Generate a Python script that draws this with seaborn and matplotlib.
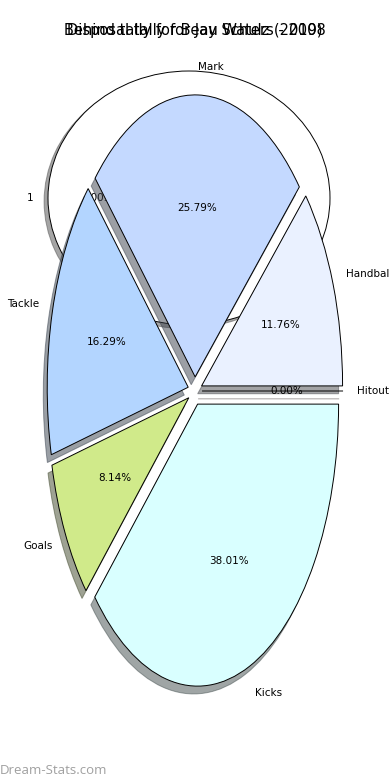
import matplotlib
matplotlib.use("Agg")
import matplotlib.pyplot as plt
import seaborn as sns

sns.set_style("white")
plt.rcParams["font.family"] = ["DejaVu Sans"]
plt.rcParams["text.color"] = "black"

# ---- data ----
title_1 = "Behind tally for Beau Waters - 2008"
labels_1 = ["1"]
values_1 = [1]
colors_1 = ["#FFFFFF"]

title_2 = "Disposal tally for Jay Schulz (2019)"
labels_2 = ["Handball", "Mark", "Tackle", "Goals", "Kicks", "Hitout"]
values_2 = [26, 57, 36, 18, 84, 0]
colors_2 = ["#EAF1FF", "#C4D9FF", "#B3D5FF", "#D0EA8A", "#D9FFFF", "#FFE0E0"]

W, H = 390, 780
fig = plt.figure(figsize=(W / 100, H / 100), dpi=100)


def px_axes(cx, cy, rx, ry):
    w, h = 2.5 * rx, 2.5 * ry
    return fig.add_axes([(cx - w / 2) / W, 1 - (cy + h / 2) / H, w / W, h / H])


def px_title(ax, text, cx_px, base_px):
    x0, y0, w, h = ax.get_position().bounds
    x = (cx_px / W - x0) / w
    y = ((1 - base_px / H) - y0) / h
    ax.set_title(text, fontsize=10.5, x=x, y=y, pad=0, color="black")


ax1 = px_axes(189, 198, 141, 127)
ax1.pie(values_1, labels=labels_1, colors=sns.color_palette(colors_1),
        autopct="%1.1f%%", shadow=True,
        wedgeprops={"edgecolor": "black", "linewidth": 0.7},
        textprops={"fontsize": 7.5, "color": "black"})
ax1.set_aspect("auto")
px_title(ax1, title_1, 195, 35)

ax2 = px_axes(195, 391, 141, 282)
ax2.pie(values_2, labels=labels_2, colors=sns.color_palette(colors_2),
        autopct="%.2f%%", shadow=True, explode=[0.05] * len(values_2),
        wedgeprops={"edgecolor": "black", "linewidth": 0.7},
        textprops={"fontsize": 7.5, "color": "black"})
ax2.set_aspect("auto")
px_title(ax2, title_2, 195, 35)

fig.text(0.0, 1 - 770 / H, "Dream-Stats.com", fontsize=9.5, color="#a0a0a0",
         family=["Open Sans", "DejaVu Sans"], ha="left", va="center")

fig.savefig("out.png", dpi=100)
